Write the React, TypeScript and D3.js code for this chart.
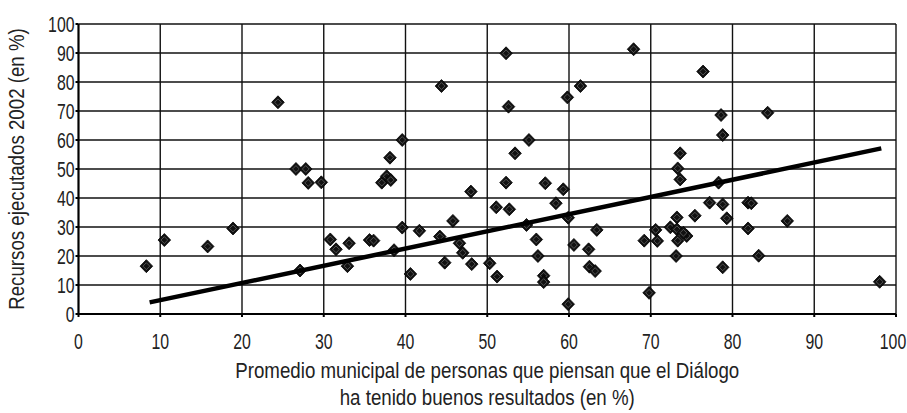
import React from "react";
import * as d3 from "d3";

// Promedio municipal de personas que piensan que el Diálogo ha tenido buenos resultados (en %)
const dialogo: number[] = [
  8.3, 10.5, 15.8, 18.9, 24.4, 26.6, 27.8, 28.1, 29.7, 27.1,
  30.8, 31.5, 33.1, 32.9, 35.6, 36.1, 38.1, 37.1, 37.7, 38.2,
  39.6, 39.6, 38.6, 40.6, 41.7, 44.4, 44.2, 45.8, 44.8, 46.6,
  47.0, 48.0, 48.1, 50.3, 51.2, 51.1, 52.3, 52.6, 52.3, 52.7,
  53.4, 55.1, 54.8, 56.0, 56.2, 56.9, 56.9, 57.1, 58.4, 59.3,
  59.8, 61.4, 59.9, 59.9, 60.6, 62.4, 62.5, 63.2, 63.4, 67.9,
  76.4, 78.6, 78.8, 84.3, 73.6, 73.3, 73.6, 78.3, 77.2, 78.8,
  81.9, 82.3, 79.3, 75.4, 81.9, 86.7, 83.2, 78.8, 98.0, 69.8,
  69.2, 70.6, 70.8, 72.4, 73.2, 73.2, 73.3, 73.1, 74.4, 74.0,
];
// Recursos ejecutados 2002 (en %)
const recursos: number[] = [
  16.5, 25.5, 23.3, 29.5, 73.0, 50.0, 50.0, 45.2, 45.4, 15.0,
  25.7, 22.3, 24.4, 16.5, 25.5, 25.3, 53.9, 45.3, 47.5, 46.2,
  60.0, 29.8, 22.0, 13.8, 28.7, 78.6, 26.7, 32.1, 17.7, 24.4,
  21.1, 42.2, 17.2, 17.5, 12.9, 36.8, 89.9, 71.5, 45.3, 36.1,
  55.4, 60.0, 30.7, 25.7, 20.0, 13.2, 11.0, 45.1, 38.2, 43.0,
  74.7, 78.6, 33.2, 3.4, 23.8, 22.3, 16.3, 14.8, 29.0, 91.3,
  83.6, 68.6, 61.7, 69.4, 55.4, 50.2, 46.4, 45.3, 38.4, 37.8,
  38.4, 38.2, 33.0, 33.9, 29.5, 32.1, 20.1, 16.1, 11.1, 7.3,
  25.3, 29.0, 25.2, 29.9, 33.3, 29.2, 25.3, 20.0, 26.9, 28.0,
];
// Linear trend line end points
const trendX: number[] = [8.7, 98.2];
const trendY: number[] = [4.0, 57.1];

const xTicks: number[] = [0, 10, 20, 30, 40, 50, 60, 70, 80, 90, 100];
const yTicks: number[] = [0, 10, 20, 30, 40, 50, 60, 70, 80, 90, 100];

const xTitle1 = "Promedio municipal de personas que piensan que el Diálogo";
const xTitle2 = "ha tenido buenos resultados (en %)";
const yTitle = "Recursos ejecutados 2002 (en %)";

const W = 907;
const H = 413;
const M = { left: 78.5, right: 896, top: 24, bottom: 314 };
const FONT = "'Liberation Sans', Arial, sans-serif";
const TICK_SX = 0.72;
const TITLE_SX = 0.85;

export default function App() {
  const x = d3.scaleLinear().domain([0, 100]).range([M.left, M.right]);
  const y = d3.scaleLinear().domain([0, 100]).range([M.bottom, M.top]);

  const points = dialogo.map((d, i) => ({ x: d, y: recursos[i] }));
  const trend = trendX.map((d, i) => [x(d), y(trendY[i])] as [number, number]);
  const line = d3.line()(trend) || "";

  const r = 6.5;
  const diamond = `M0,${-r}L${r * 0.97},0L0,${r}L${-r * 0.97},0Z`;
  const ri = 3.4;
  const inner = `M0,${-ri}L${ri},0L0,${ri}L${-ri},0Z`;
  const cx = (M.left + M.right) / 2;

  return (
    <svg
      width={W}
      height={H}
      style={{ position: "absolute", left: 0, top: 0, background: "#fff" }}
      fontFamily={FONT}
    >
      {/* grid */}
      {yTicks.map((t) => (
        <line key={"gy" + t} x1={M.left} x2={M.right} y1={y(t)} y2={y(t)} stroke="#111" strokeWidth={1.4} />
      ))}
      {xTicks.map((t) => (
        <line key={"gx" + t} x1={x(t)} x2={x(t)} y1={M.top} y2={M.bottom} stroke="#111" strokeWidth={1.4} />
      ))}
      {/* axes */}
      <line x1={M.left} x2={M.left} y1={M.top} y2={M.bottom} stroke="#000" strokeWidth={2} />
      <line x1={M.left} x2={M.right} y1={M.bottom} y2={M.bottom} stroke="#000" strokeWidth={2} />
      {yTicks.map((t) => (
        <line key={"ty" + t} x1={M.left - 3} x2={M.left} y1={y(t)} y2={y(t)} stroke="#000" strokeWidth={2} />
      ))}
      {xTicks.map((t) => (
        <line key={"tx" + t} x1={x(t)} x2={x(t)} y1={M.bottom} y2={M.bottom + 3} stroke="#000" strokeWidth={2} />
      ))}
      {/* tick labels */}
      {yTicks.map((t) => (
        <text
          key={"ly" + t}
          transform={`translate(${M.left - 4},${y(t) + 8}) scale(${TICK_SX},1)`}
          textAnchor="end"
          fontSize={22}
          fill="#222"
        >
          {t}
        </text>
      ))}
      {xTicks.map((t) => (
        <text
          key={"lx" + t}
          transform={`translate(${Math.min(x(t), W - 14)},${M.bottom + 35}) scale(${TICK_SX},1)`}
          textAnchor="middle"
          fontSize={22}
          fill="#222"
        >
          {t}
        </text>
      ))}
      {/* titles */}
      <text transform={`translate(${cx},378) scale(${TITLE_SX},1)`} textAnchor="middle" fontSize={22} fill="#222">
        {xTitle1}
      </text>
      <text transform={`translate(${cx},405) scale(${TITLE_SX},1)`} textAnchor="middle" fontSize={22} fill="#222">
        {xTitle2}
      </text>
      <text
        transform={`translate(24,${(M.top + M.bottom) / 2}) rotate(-90) scale(${TITLE_SX},1)`}
        textAnchor="middle"
        fontSize={22}
        fill="#222"
      >
        {yTitle}
      </text>
      {/* points */}
      {points.map((p, i) => (
        <g key={"p" + i} transform={`translate(${x(p.x)},${y(p.y)})`}>
          <path d={diamond} fill="#111" stroke="#000" strokeWidth={0.8} />
          <path d={inner} fill="none" stroke="#fff" strokeWidth={0.6} strokeOpacity={0.45} />
        </g>
      ))}
      {/* trend line */}
      <path d={line} stroke="#000" strokeWidth={4.5} fill="none" />
    </svg>
  );
}
